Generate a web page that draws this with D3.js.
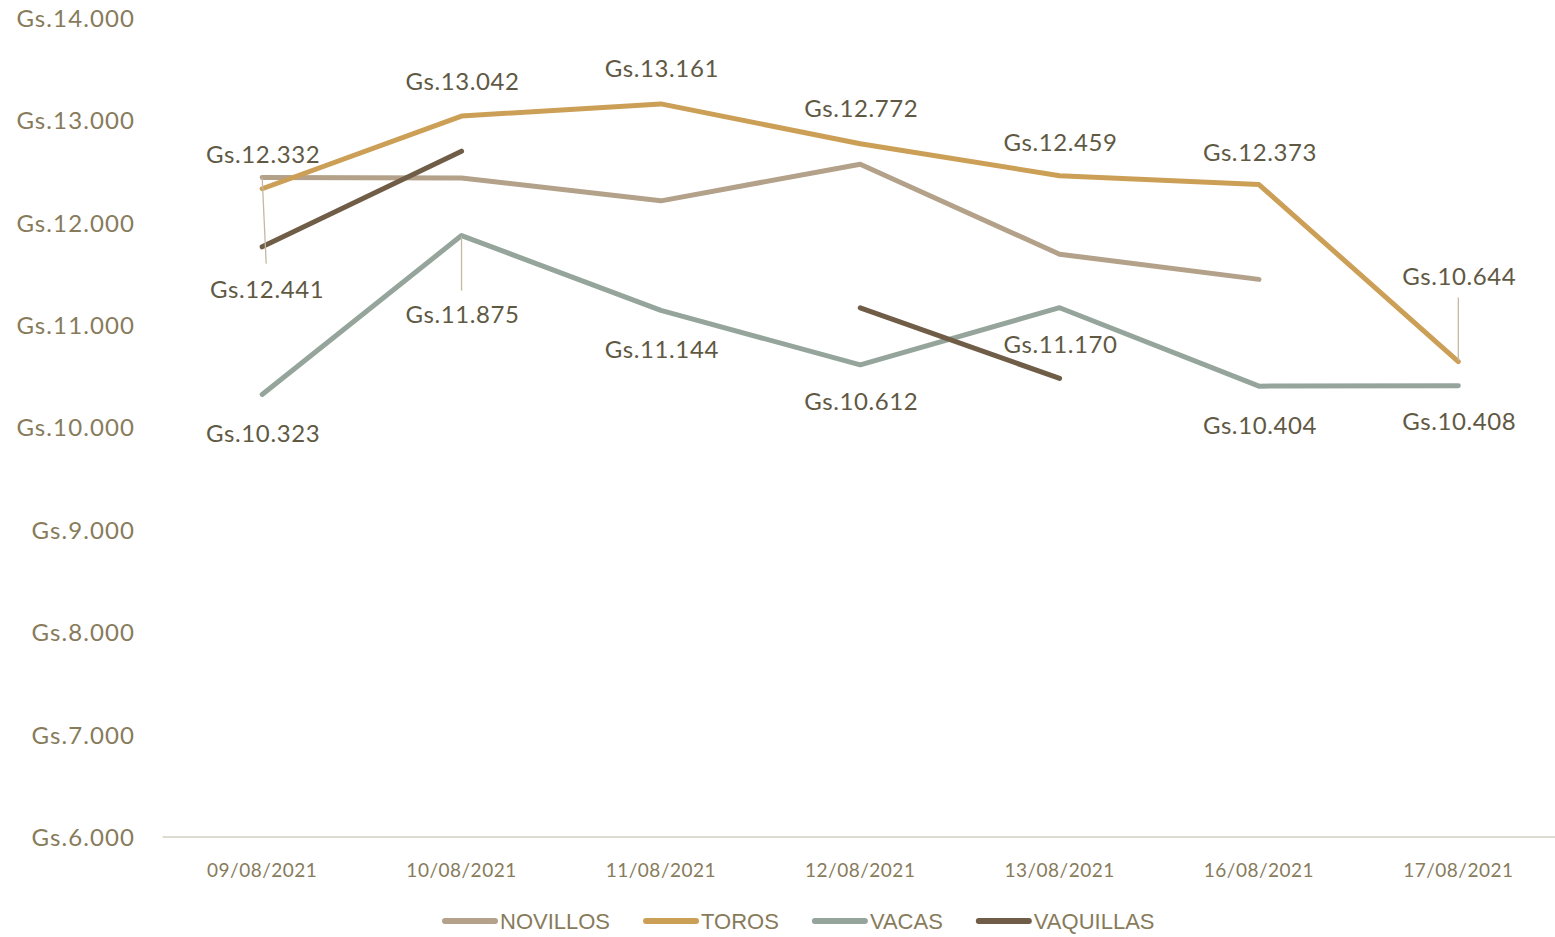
<!DOCTYPE html>
<html>
<head>
<meta charset="utf-8">
<script src="https://cdn.jsdelivr.net/npm/d3@7"></script>
<style>
  html, body { margin: 0; padding: 0; background: #fff; }
  svg { display: block; }
</style>
</head>
<body>
<svg id="chart" width="1555" height="937"></svg>
<script>
// ---- data ----
const categories = ["09/08/2021", "10/08/2021", "11/08/2021", "12/08/2021", "13/08/2021", "16/08/2021", "17/08/2021"];
const seriesNames = ["NOVILLOS", "TOROS", "VACAS", "VAQUILLAS"];
const novillos  = [12441, 12437, 12214, 12572, 11693, 11447, null];
const toros     = [12332, 13042, 13161, 12772, 12459, 12373, 10644];
const vacas     = [10323, 11875, 11144, 10612, 11170, 10404, 10408];
const vaquillas = [11765, 12699, null, 11169, 10479, null, null];
const yTicks = [6000, 7000, 8000, 9000, 10000, 11000, 12000, 13000, 14000];

// which points carry a data label (category indices)
const labeledToros = [0, 1, 2, 3, 4, 5, 6];
const labeledVacas = [0, 1, 2, 3, 4, 5, 6];
const labeledNovillos = [0];

// ---- layout / style ----
const colors = ["#b3a18a", "#cc9f57", "#95a59c", "#6f5d47"];
const svg = d3.select("#chart");
const plot = { left: 162.5, right: 1558, top: 18, bottom: 837 };

const x = d3.scaleBand().domain(categories).range([plot.left, plot.right]).padding(0);
const y = d3.scaleLinear().domain([6000, 14000]).range([plot.bottom, plot.top]);
const cx = c => x(c) + x.bandwidth() / 2;

const fmt = v => "Gs." + d3.format(",")(v).replace(/,/g, ".");
const labelFont = "Lato, 'Open Sans', sans-serif";

// y axis labels
const yAxis = d3.axisLeft(y).tickValues(yTicks).tickSize(0).tickPadding(0).tickFormat(fmt);
const gy = svg.append("g").attr("transform", "translate(135,0)").call(yAxis);
gy.select(".domain").remove();
gy.selectAll("text")
  .attr("fill", "#877b5b")
  .style("font-family", labelFont)
  .style("font-size", "24px")
  .style("letter-spacing", "1.1px")
  .attr("dy", "0.35em");

// x axis
const xAxis = d3.axisBottom(x).tickSize(0).tickPadding(0);
const gx = svg.append("g").attr("transform", `translate(0,${plot.bottom})`).call(xAxis);
gx.select(".domain").attr("stroke", "#dedbd3").attr("stroke-width", 2)
  .attr("d", `M${plot.left},0H1555`);
gx.selectAll("text")
  .attr("fill", "#877b5b")
  .attr("y", 33)
  .attr("dy", "0.35em")
  .style("font-family", labelFont)
  .style("font-size", "19px")
  .style("letter-spacing", "0.5px");

// lines
const allSeries = [novillos, toros, vacas, vaquillas];
const line = d3.line()
  .defined(d => d.v != null)
  .x(d => cx(d.c))
  .y(d => y(d.v));

allSeries.forEach((vals, i) => {
  const pts = categories.map((c, j) => ({ c, v: vals[j] }));
  svg.append("path")
    .datum(pts)
    .attr("d", line)
    .attr("fill", "none")
    .attr("stroke", colors[i])
    .attr("stroke-width", 5)
    .attr("stroke-linecap", "round")
    .attr("stroke-linejoin", "round");
});

// leader lines
const leaders = [
  { s: novillos, j: 0, from: 0, to: 86, dx0: 0, dx1: 4 },
  { s: vacas, j: 1, from: 1, to: 55, dx0: 0, dx1: 0 },
  { s: toros, j: 6, from: -1, to: -64, dx0: 0, dx1: 0 }
];
leaders.forEach(l => {
  const px = cx(categories[l.j]), py = y(l.s[l.j]);
  svg.append("line")
    .attr("x1", px + l.dx0).attr("y1", py + l.from)
    .attr("x2", px + l.dx1).attr("y2", py + l.to)
    .attr("stroke", "#c3b8a4").attr("stroke-width", 1.3);
});

// data labels
const labelG = svg.append("g")
  .style("font-family", labelFont)
  .style("font-size", "24px")
  .style("letter-spacing", "0.6px")
  .attr("fill", "#5f5944")
  .attr("text-anchor", "middle");

const torosDy = [-34, -34, -35, -35, -33, -32, -85];
const vacasDy = [39, 79, 39, 37, 37, 39, 36];

labeledToros.forEach(j => {
  labelG.append("text")
    .attr("x", cx(categories[j]) + 1)
    .attr("y", y(toros[j]) + torosDy[j])
    .attr("dy", "0.35em")
    .text(fmt(toros[j]));
});
labeledVacas.forEach(j => {
  labelG.append("text")
    .attr("x", cx(categories[j]) + 1)
    .attr("y", y(vacas[j]) + vacasDy[j])
    .attr("dy", "0.35em")
    .text(fmt(vacas[j]));
});
labeledNovillos.forEach(j => {
  labelG.append("text")
    .attr("x", cx(categories[j]) + 5)
    .attr("y", y(novillos[j]) + 112)
    .attr("dy", "0.35em")
    .text(fmt(novillos[j]));
});

// legend
const legend = svg.append("g").attr("transform", "translate(443,921)");
let lx = 0;
seriesNames.forEach((name, i) => {
  const g = legend.append("g").attr("transform", `translate(${lx},0)`);
  g.append("line")
    .attr("x1", 2).attr("x2", 52).attr("y1", 0).attr("y2", 0)
    .attr("stroke", colors[i]).attr("stroke-width", 6)
    .attr("stroke-linecap", "round");
  const t = g.append("text")
    .attr("x", 57).attr("y", 0).attr("dy", "0.36em")
    .attr("fill", "#877b5b")
    .style("font-family", "'Liberation Sans', Arial, sans-serif")
    .style("font-size", "22px")
    .text(name);
  lx += 57 + t.node().getComputedTextLength() + 34;
});
</script>
</body>
</html>
